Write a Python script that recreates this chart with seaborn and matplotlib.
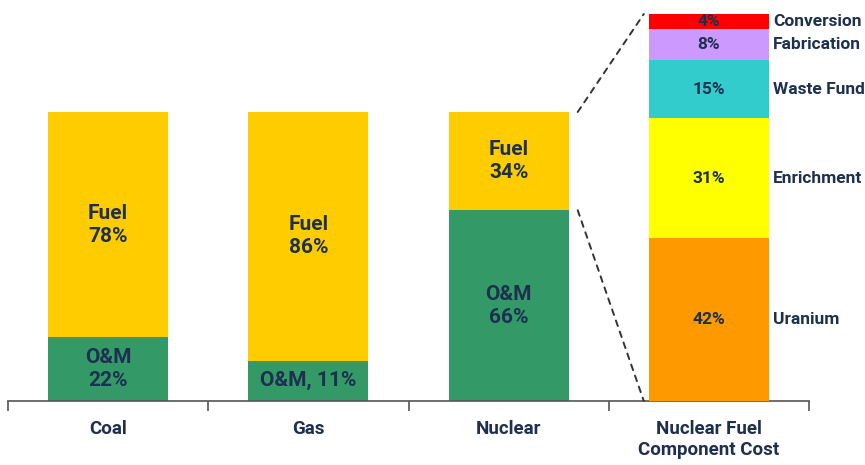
import matplotlib
matplotlib.use("Agg")
import matplotlib.pyplot as plt
from matplotlib.patches import ConnectionPatch
import seaborn as sns
import pandas as pd

# ---------------- data ----------------
categories = ["Coal", "Gas", "Nuclear", "Nuclear Fuel\nComponent Cost"]
plant_types = ["Coal", "Gas", "Nuclear"]
om_share = [22, 14, 66]            # drawn O&M height
fuel_share = [78, 86, 34]
om_labels = ["O&M\n22%", "O&M, 11%", "O&M\n66%"]
fuel_labels = ["Fuel\n78%", "Fuel\n86%", "Fuel\n34%"]

components = ["Uranium", "Enrichment", "Waste Fund", "Fabrication", "Conversion"]
component_share = [42, 31, 15, 8, 4]
component_labels = ["42%", "31%", "15%", "8%", "4%"]

# ---------------- style ----------------
sns.set_theme(style="white")
plt.rcParams["font.family"] = ["Roboto", "DejaVu Sans"]
plt.rcParams["font.weight"] = "bold"

TXT = "#1E3050"
seg_colors = {"O&M": "#339966", "Fuel": "#FFCC00"}
comp_colors = {"Uranium": "#FF9900", "Enrichment": "#FFFF00", "Waste Fund": "#33CCCC",
               "Fabrication": "#CC99FF", "Conversion": "#FF0000"}
BAR_W = 0.6

fig = plt.figure(figsize=(8.65, 4.65), dpi=100)
ax = fig.add_axes([8 / 865, 64 / 465, 801 / 865, 387 / 465])
ax2 = ax.twinx()

# main stacked bars (tops drawn tallest first)
rows = []
for c, om, fu in zip(plant_types, om_share, fuel_share):
    rows.append({"category": c, "segment": "Fuel", "top": om + fu})
    rows.append({"category": c, "segment": "O&M", "top": om})
df_main = pd.DataFrame(rows)
sns.barplot(data=df_main, x="category", y="top", hue="segment", hue_order=["Fuel", "O&M"],
            order=categories, dodge=False, palette=seg_colors, saturation=1, width=BAR_W,
            linewidth=0, legend=False, ax=ax)

# component stacked bar on twin axis
crow = []
cum = 0
bottoms = []
for name, v in zip(components, component_share):
    bottoms.append(cum)
    cum += v
    crow.append({"category": categories[3], "segment": name, "top": cum})
df_comp = pd.DataFrame(crow)
sns.barplot(data=df_comp, x="category", y="top", hue="segment", hue_order=components[::-1],
            order=categories, dodge=False, palette=comp_colors, saturation=1, width=BAR_W,
            linewidth=0, legend=False, ax=ax2)

# labels inside bars
for i, (om, fu) in enumerate(zip(om_share, fuel_share)):
    ax.text(i, om / 2, om_labels[i], ha="center", va="center", color=TXT, fontsize=15,
            fontweight="bold", linespacing=1.25)
    ax.text(i, om + fu / 2, fuel_labels[i], ha="center", va="center", color=TXT, fontsize=15,
            fontweight="bold", linespacing=1.25)

for name, b, v, lab in zip(components, bottoms, component_share, component_labels):
    ax2.text(3, b + v / 2, lab, ha="center", va="center", color=TXT, fontsize=12.5,
             fontweight="bold")
    ax2.text(3 + BAR_W / 2 + 0.02, b + v / 2, name, ha="left", va="center", color=TXT,
             fontsize=12.5, fontweight="bold")

# limits
ax.set_ylim(0, 100 * 387 / 289)
ax2.set_ylim(0, 100)

# dashed connectors
nuc_i = 2
om_n = om_share[nuc_i]
top_n = om_share[nuc_i] + fuel_share[nuc_i]
gapA, gapB = 0.045, 0.025
for ya, yb in [(top_n, 100), (om_n, 0)]:
    cp = ConnectionPatch(xyA=(nuc_i + BAR_W / 2 + gapA, ya), coordsA=ax.transData,
                         xyB=(3 - BAR_W / 2 - gapB, yb), coordsB=ax2.transData,
                         linestyle=(0, (3, 3)), color="#333333", lw=1.4)
    fig.add_artist(cp)

# axes styling
for a in (ax, ax2):
    for s in ("top", "right", "left"):
        a.spines[s].set_visible(False)
    a.set_xlabel("")
    a.set_ylabel("")
    a.set_yticks([])
ax2.spines["bottom"].set_visible(False)
ax.spines["bottom"].set_color("#555555")
ax.spines["bottom"].set_linewidth(1.2)

boundaries = [-0.5, 0.5, 1.5, 2.5, 3.5]
ax.set_xticks(boundaries, [""] * len(boundaries))
ax.set_xticks(range(len(categories)), categories, minor=True)
ax.tick_params(axis="x", which="major", bottom=True, direction="out", length=7, width=1.2,
               color="#555555")
ax.tick_params(axis="x", which="minor", bottom=False, length=0, pad=14, labelbottom=True,
               labelsize=13.5, labelcolor=TXT)
for t in ax.get_xticklabels(minor=True):
    t.set_fontweight("bold")
ax2.tick_params(axis="x", which="both", bottom=False, top=False, labelbottom=False, labeltop=False)
ax.set_xlim(-0.5, 3.5)

fig.savefig("out.png", dpi=100)
